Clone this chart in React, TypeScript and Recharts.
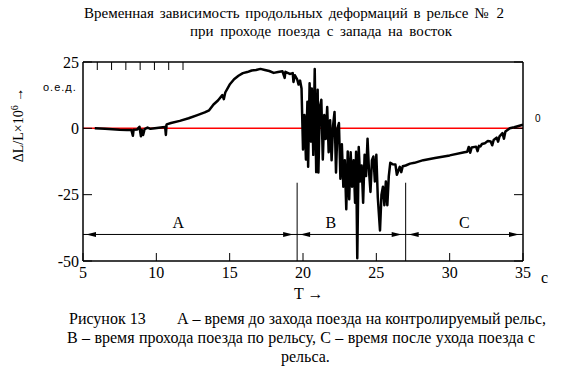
import React from "react";
import {
  ComposedChart,
  Line,
  Scatter,
  XAxis,
  YAxis,
  ReferenceLine,
  ReferenceDot,
} from "recharts";

// time, s
const time = [
  5.8, 6.5, 7.0, 7.5, 8.0, 8.3, 8.4, 8.45, 8.7, 8.85, 8.95, 9.0, 9.1, 9.2, 9.4,
  9.6, 9.9, 10.3, 10.6, 10.65, 10.7, 11.0, 11.6, 12.2, 12.8, 13.3, 13.6, 13.9,
  14.2, 14.5, 14.6, 14.7, 15.0, 15.3, 15.6, 15.9, 16.2, 16.5, 16.8, 17.1, 17.4,
  17.7, 18.0, 18.3, 18.6, 18.75, 18.8, 19.1, 19.3, 19.35, 19.45, 19.6, 19.7,
  19.8, 19.9,
  20.0, 20.1, 20.2, 20.3, 20.35, 20.45, 20.55, 20.6, 20.7, 20.8, 20.9, 21.0,
  21.05, 21.15, 21.25, 21.35, 21.45, 21.55, 21.65, 21.75, 21.85, 21.95, 22.05,
  22.15, 22.25, 22.35, 22.45, 22.55, 22.65, 22.75, 22.85, 22.95, 23.05, 23.15,
  23.25, 23.35, 23.45, 23.55, 23.62, 23.7, 23.8, 23.9, 24.0, 24.1, 24.2, 24.3,
  24.4, 24.5, 24.6, 24.7, 24.8, 24.9, 25.0, 25.1, 25.25, 25.35, 25.45, 25.55,
  25.65, 25.75, 25.85, 25.95, 26.1, 26.3, 26.4, 26.5, 26.6, 26.7, 26.8, 27.0,
  27.3, 27.6,
  28.2, 29.0, 30.0, 31.0, 31.2, 31.3, 31.4, 31.5, 31.8, 31.9, 32.0, 32.1, 32.2,
  32.4, 32.6, 32.8, 32.9, 33.0, 33.2, 33.3, 33.4, 33.6, 33.7, 33.8, 34.1, 34.4,
  34.7, 35.0,
];

// ΔL/L × 10^6
const strain = [
  0.0, -0.2, -0.3, -0.5, -0.6, -0.6, -2.8, -0.5, -0.4, 0.6, -3.0, -0.5, -2.5,
  -0.3, 0.3, -0.2, 0.0, 0.3, 0.5, -2.5, 1.5, 2.0, 2.8, 3.8, 5.0, 6.0, 6.8, 9.0,
  10.5, 12.5, 11.0, 13.5, 16.5, 18.5, 19.8, 20.8, 21.2, 21.8, 22.0, 22.4, 22.0,
  21.6, 20.9, 21.2, 21.5, 19.0, 21.3, 20.5, 20.8, 17.5, 20.0, 18.5, 16.5, 18.0,
  15.0,
  -8, 5, -11.7, 10, -14.5, 17, -5, 15, -10, 22.4, -16.5, 14.5, -16.6, 8, 10.8,
  -11.7, 5, -4, 8, -9, 3, -12, 1, 6.2, -16.6, 0, 2, -19, -6, -22, -12, -30.5,
  -8.7, -26.7, -9, -22, -12, -28, -8.8, -49, -7, -20, -14, -28, -10, -18, -3.9,
  -16, -24, -12, -10.6, -20, -10, -26, -38.5, -25, -22, -29, -20, -29, -18, -13,
  -13.5, -13.6, -17.5, -16, -14.5, -16.5, -14.3, -14, -13.3, -13,
  -12, -11.2, -10.2, -9.0, -8.8, -7.0, -9.2, -7.2, -6.9, -8.6, -6.6, -6.8, -5.9,
  -5.6, -4.8, -5.0, -6.4, -4.4, -3.5, -5.0, -3.0, -1.8, -3.9, -1.2, 0.0, 0.4,
  0.9, 1.4,
];

const xTicks = [5, 10, 15, 20, 25, 30, 35];
const yTicks = [-50, -25, 0, 25];

// zone boundaries (A | B | C), s
const boundaries = [19.6, 27.0];
const dimLevel = -40;
const boundaryTop = -20.5;

const zoneNames = ["A", "B", "C"];
const zoneCentres = [11.5, 21.9, 31.0];
const zoneLabelLevel = -35.3;

// arrowheads on the dimension line: position and pointing side
const arrowAt = [5, 19.6, 19.6, 27.0, 27.0, 35];
const arrowDir = [-1, 1, -1, 1, -1, 1];

const data = time.map((t, i) => ({ t, v: strain[i] }));
const arrowData = arrowAt.map((t, i) => ({ t, v: dimLevel, dir: arrowDir[i] }));

const serif = "'Liberation Serif', 'Times New Roman', serif";
const sans = "'Liberation Sans', Arial, sans-serif";

const ArrowHead = (props: any) => {
  const { cx, cy, payload } = props;
  const dir = payload.dir;
  const tip = dir < 0 ? cx + 3 : cx - 4;
  const base = tip - dir * 10;
  return (
    <polygon
      points={`${tip},${cy} ${base},${cy - 2.5} ${base},${cy + 2.5}`}
      fill="#000"
    />
  );
};

const txt = (left: number, top: number, size: number, font = serif): React.CSSProperties => ({
  position: "absolute",
  left,
  top,
  fontSize: size,
  fontFamily: font,
  whiteSpace: "nowrap",
  lineHeight: 1,
  color: "#000",
});

// a line stretched to a fixed width, like the justified text in the source
const just = (left: number, top: number, width: number, size: number): React.CSSProperties => ({
  ...txt(left, top, size),
  width,
  textAlign: "justify",
  textAlignLast: "justify",
});

export default function App() {
  const tickStyle = { fontSize: 16, fontFamily: serif, fill: "#000" };
  return (
    <div
      style={{
        position: "absolute",
        left: 0,
        top: 0,
        width: 586,
        height: 367,
        background: "#fff",
      }}
    >
      <ComposedChart
        width={586}
        height={367}
        data={data}
        margin={{ top: 61, right: 62, bottom: 105, left: 82 }}
      >
        <XAxis
          dataKey="t"
          type="number"
          domain={[5, 35]}
          ticks={xTicks}
          allowDataOverflow
          height={1}
          tickSize={-8}
          tickMargin={14}
          axisLine={{ stroke: "#000", strokeWidth: 1.5 }}
          tickLine={{ stroke: "#000" }}
          tick={tickStyle}
        />
        <XAxis
          xAxisId="top"
          orientation="top"
          type="number"
          domain={[5, 35]}
          ticks={xTicks}
          allowDataOverflow
          height={1}
          tickSize={-8}
          tickFormatter={() => ""}
          axisLine={{ stroke: "#000", strokeWidth: 1.5 }}
          tickLine={{ stroke: "#000" }}
        />
        <YAxis
          type="number"
          domain={[-50, 25]}
          ticks={yTicks}
          allowDataOverflow
          width={1}
          tickSize={-9}
          tickMargin={13}
          axisLine={{ stroke: "#000", strokeWidth: 1.5 }}
          tickLine={{ stroke: "#000" }}
          tick={tickStyle}
        />
        <YAxis
          yAxisId="right"
          orientation="right"
          type="number"
          domain={[-50, 25]}
          ticks={yTicks}
          allowDataOverflow
          width={1}
          tickSize={-9}
          tickFormatter={() => ""}
          axisLine={{ stroke: "#000", strokeWidth: 1.5 }}
          tickLine={{ stroke: "#000" }}
        />
        <ReferenceLine y={0} stroke="#ff0000" strokeWidth={1.5} />
        <ReferenceLine y={dimLevel} stroke="#000" strokeWidth={1} />
        {boundaries.map((b) => (
          <ReferenceLine
            key={b}
            segment={[
              { x: b, y: boundaryTop },
              { x: b, y: -50 },
            ]}
            stroke="#000"
            strokeWidth={1}
          />
        ))}
        {zoneNames.map((n, i) => (
          <ReferenceDot
            key={n}
            x={zoneCentres[i]}
            y={zoneLabelLevel}
            r={0}
            fill="none"
            stroke="none"
            label={{
              value: n,
              position: "center",
              fill: "#000",
              fontSize: 16,
              fontFamily: serif,
            }}
          />
        ))}
        <Scatter
          data={arrowData}
          dataKey="v"
          shape={ArrowHead}
          isAnimationActive={false}
        />
        <Line
          type="linear"
          dataKey="v"
          stroke="#000"
          strokeWidth={2.5}
          strokeLinejoin="round"
          dot={false}
          isAnimationActive={false}
        />
      </ComposedChart>

      <div style={just(84, 6, 420, 15)}>
        Временная зависимость продольных деформаций в рельсе № 2
      </div>
      <div style={just(190, 24, 262, 15)}>
        при проходе поезда с запада на восток
      </div>

      <div style={{ ...txt(43, 82, 11, sans), letterSpacing: 1 }}>о.е.д.</div>
      <div style={txt(535, 114, 10, sans)}>0</div>

      <div
        style={{
          ...txt(18, 125, 14),
          transform: "translate(-50%, -50%) rotate(-90deg)",
        }}
      >
        ΔL/L×10<sup style={{ fontSize: 10 }}>6</sup> →
      </div>

      <div style={txt(541, 270, 16)}>c</div>
      <div style={txt(294, 286, 16)}>T →</div>

      <div
        style={{
          ...txt(69, 311, 16),
          width: 477,
          display: "flex",
          justifyContent: "space-between",
        }}
      >
        <span>Рисунок 13</span>
        <span>А – время до захода поезда на контролируемый рельс,</span>
      </div>
      <div style={just(67, 330, 468, 16)}>
        В – время прохода поезда по рельсу, С – время после ухода поезда с
      </div>
      <div style={txt(281, 349, 16)}>рельса.</div>
    </div>
  );
}
